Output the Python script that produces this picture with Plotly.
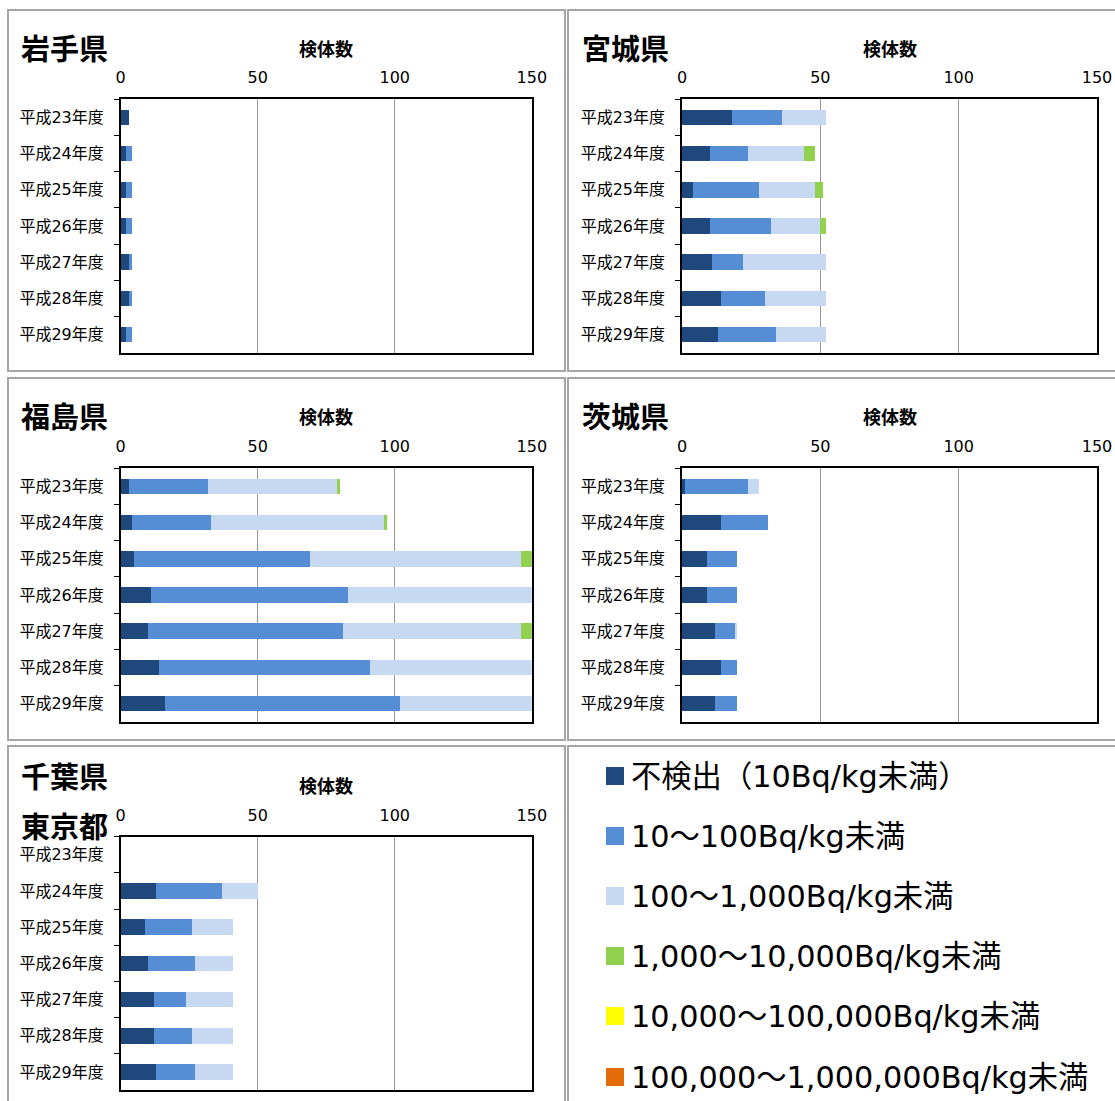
import plotly.graph_objects as go

years = ["平成23年度", "平成24年度", "平成25年度", "平成26年度", "平成27年度", "平成28年度", "平成29年度"]
series_names = ["不検出（10Bq/kg未満）", "10～100Bq/kg未満", "100～1,000Bq/kg未満",
                "1,000～10,000Bq/kg未満", "10,000～100,000Bq/kg未満", "100,000～1,000,000Bq/kg未満"]
series_colors = ["#1F497D", "#558ED5", "#C6D9F1", "#92D050", "#FFFF00", "#E36C09"]
x_ticks = [0, 50, 100, 150]

# values per prefecture: [series][year]
iwate = [
    [3, 2, 2, 2, 3, 3, 2],
    [0, 2, 2, 2, 1, 1, 2],
    [0, 0, 0, 0, 0, 0, 0],
    [0, 0, 0, 0, 0, 0, 0],
    [0, 0, 0, 0, 0, 0, 0],
    [0, 0, 0, 0, 0, 0, 0],
]
miyagi = [
    [18, 10, 4, 10, 11, 14, 13],
    [18, 14, 24, 22, 11, 16, 21],
    [16, 20, 20, 18, 30, 22, 18],
    [0, 4, 3, 2, 0, 0, 0],
    [0, 0, 0, 0, 0, 0, 0],
    [0, 0, 0, 0, 0, 0, 0],
]
fukushima = [
    [3, 4, 5, 11, 10, 14, 16],
    [29, 29, 64, 72, 71, 77, 86],
    [47, 63, 77, 67, 65, 59, 48],
    [1, 1, 4, 0, 4, 0, 0],
    [0, 0, 0, 0, 0, 0, 0],
    [0, 0, 0, 0, 0, 0, 0],
]
ibaraki = [
    [1, 14, 9, 9, 12, 14, 12],
    [23, 17, 11, 11, 7, 6, 8],
    [4, 0, 0, 0, 1, 0, 0],
    [0, 0, 0, 0, 0, 0, 0],
    [0, 0, 0, 0, 0, 0, 0],
    [0, 0, 0, 0, 0, 0, 0],
]
chiba_tokyo = [
    [0, 13, 9, 10, 12, 12, 13],
    [0, 24, 17, 17, 12, 14, 14],
    [0, 13, 15, 14, 17, 15, 14],
    [0, 0, 0, 0, 0, 0, 0],
    [0, 0, 0, 0, 0, 0, 0],
    [0, 0, 0, 0, 0, 0, 0],
]

panels = [
    ("岩手県", iwate),
    ("宮城県", miyagi),
    ("福島県", fukushima),
    ("茨城県", ibaraki),
    ("千葉県<br>東京都", chiba_tokyo),
]

W, H = 1115, 1101
FONT = "DejaVu Sans, Noto Sans CJK JP, sans-serif"
JFONT = "Noto Sans CJK JP, sans-serif"

def px(x):
    return x / W

def py(y):
    return 1 - y / H

# layout geometry (pixels)
col_plot_x = [(120.7, 531.8), (682.0, 1097.0)]
row_plot_y = [(99.3, 352.7), (468.3, 721.7), (836.7, 1090.0)]
col_box_x = [(8, 565), (568, 1125)]
row_box_y = [(10, 371), (378, 740), (746, 1115)]
title_x = [18.5, 579.5]

fig = go.Figure()
layout = dict(
    width=W, height=H, margin=dict(l=0, r=0, t=0, b=0, autoexpand=False),
    paper_bgcolor="white", plot_bgcolor="white",
    barmode="stack", bargap=0.57, showlegend=False,
    font=dict(family=FONT, color="#000000"),
)
annotations = []
shapes = []

for i, (name, data) in enumerate(panels):
    r, c = divmod(i, 2)
    k = "" if i == 0 else str(i + 1)
    for s in range(len(series_names)):
        fig.add_trace(go.Bar(
            y=years, x=data[s], orientation="h", name=series_names[s],
            marker=dict(color=series_colors[s], line=dict(width=0)),
            xaxis="x" + k, yaxis="y" + k,
        ))
    x0, x1 = col_plot_x[c]
    y0, y1 = row_plot_y[r]
    layout["xaxis" + k] = dict(
        domain=[px(x0), px(x1)], anchor="y" + k, range=[0, 150], side="top",
        tickvals=x_ticks, showgrid=True, gridcolor="#999999", gridwidth=1,
        showline=True, mirror=True, linecolor="#000000", linewidth=1.5,
        ticks="", tickfont=dict(size=16, family=FONT, color="#000000"),
        ticklabelstandoff=8, zeroline=False, fixedrange=True, automargin=False,
    )
    layout["yaxis" + k] = dict(
        domain=[py(y1), py(y0)], anchor="x" + k, autorange="reversed",
        type="category", showgrid=False, showline=True, mirror=True,
        linecolor="#000000", linewidth=1.5, ticks="outside", tickson="boundaries",
        ticklen=5, tickcolor="#000000", tickwidth=1,
        tickfont=dict(size=16, family=FONT, color="#000000"),
        ticklabelstandoff=12, fixedrange=True, automargin=False,
    )
    # panel box
    bx0, bx1 = col_box_x[c]
    by0, by1 = row_box_y[r]
    shapes.append(dict(type="rect", xref="paper", yref="paper",
                       x0=px(bx0), x1=px(bx1), y0=py(by1), y1=py(by0),
                       line=dict(color="#A6A6A6", width=2), layer="below"))
    # title
    if "<br>" in name:
        parts = name.split("<br>")
        for j, part in enumerate(parts):
            annotations.append(dict(text=part, x=px(title_x[c]), y=py([775, 824.5][j]),
                                    xref="paper", yref="paper", xanchor="left", yanchor="middle",
                                    showarrow=False, font=dict(size=29, family=JFONT, color="#000000", weight="bold")))
        ky = 785
    else:
        annotations.append(dict(text=name, x=px(title_x[c]), y=py(by0 + 37),
                                xref="paper", yref="paper", xanchor="left", yanchor="middle",
                                showarrow=False, font=dict(size=29, family=JFONT, color="#000000", weight="bold")))
        ky = by0 + 37.5
    annotations.append(dict(text="検体数", x=px((x0 + x1) / 2), y=py(ky),
                            xref="paper", yref="paper", xanchor="center", yanchor="middle",
                            showarrow=False, font=dict(size=18, family=JFONT, color="#000000", weight="bold")))

# legend panel
shapes.append(dict(type="rect", xref="paper", yref="paper",
                   x0=px(568), x1=px(1125), y0=py(1115), y1=py(746),
                   line=dict(color="#A6A6A6", width=2), layer="below"))
leg_y = [776, 836, 896, 956, 1016, 1077]
for s, nm in enumerate(series_names):
    yc = leg_y[s]
    shapes.append(dict(type="rect", xref="paper", yref="paper",
                       x0=px(606), x1=px(624), y0=py(yc + 9), y1=py(yc - 9),
                       fillcolor=series_colors[s], line=dict(width=0)))
    annotations.append(dict(text=nm, x=px(629), y=py(yc), xref="paper", yref="paper",
                            xanchor="left", yanchor="middle", showarrow=False,
                            font=dict(size=30.3, family=FONT, color="#000000")))

layout["annotations"] = annotations
layout["shapes"] = shapes
fig.update_layout(**layout)

fig.write_html("out.html", config={"displayModeBar": False},
               post_script="document.body.style.margin='0';document.body.style.overflow='hidden';document.documentElement.style.overflow='hidden';")
